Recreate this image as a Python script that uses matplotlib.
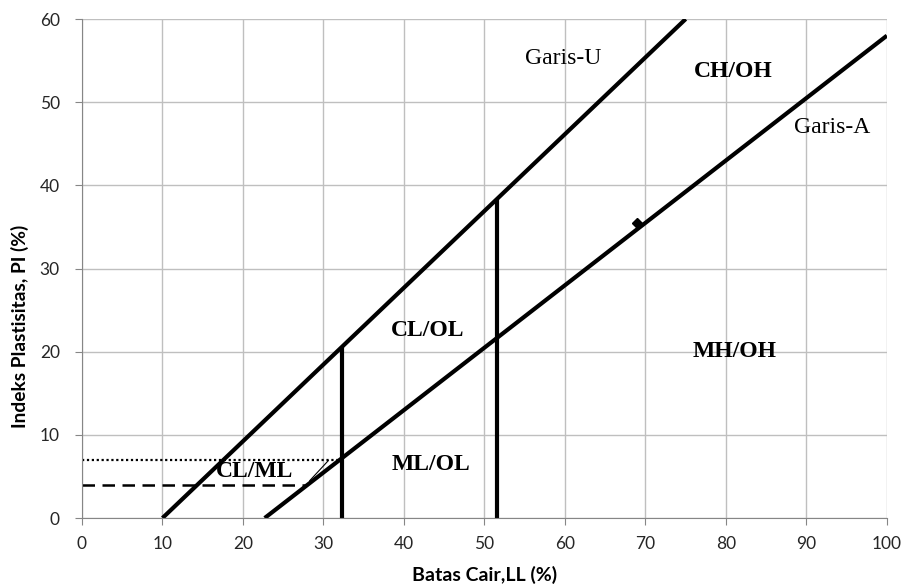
import matplotlib
matplotlib.use("Agg")
import matplotlib.pyplot as plt

# Data
u_line_x = [10, 75]
u_line_y = [0, 60]
a_line_x = [22.7, 100]
a_line_y = [0, 58]
v1_x = [32.3, 32.3]
v1_y = [0, 20.6]
v2_x = [51.6, 51.6]
v2_y = [0, 38.3]
dotted_x = [0, 32.0]
dotted_y = [7, 7]
dashed_x = [0, 28.0]
dashed_y = [4, 4]
hatch_x = [28.3, 30.6]
hatch_y = [4.5, 6.9]
point_x = [68.9]
point_y = [35.5]

labels = [
    ("Garis-U", 59.8, 55.3, "normal"),
    ("CH/OH", 80.9, 53.7, "bold"),
    ("Garis-A", 93.2, 46.9, "normal"),
    ("CL/OL", 43.0, 22.5, "bold"),
    ("MH/OH", 81.1, 20.0, "bold"),
    ("ML/OL", 43.4, 6.4, "bold"),
    ("CL/ML", 21.5, 5.6, "bold"),
]

xticks = list(range(0, 101, 10))
yticks = list(range(0, 61, 10))

fig = plt.figure(figsize=(9.05, 5.87), dpi=100)
ax = fig.add_axes([0.0906, 0.1175, 0.8894, 0.8501])

ax.set_xlim(0, 100)
ax.set_ylim(0, 60)
ax.set_xticks(xticks)
ax.set_yticks(yticks)
ax.grid(True, color="#bfbfbf", linewidth=1.0)
ax.set_axisbelow(True)
for s in ["top", "right"]:
    ax.spines[s].set_visible(False)
for s in ["left", "bottom"]:
    ax.spines[s].set_color("#868686")
ax.tick_params(direction="out", length=5, color="#868686", labelsize=12.5, labelcolor="#262626")
ax.tick_params(axis="x", pad=8)
ax.tick_params(axis="y", pad=11)
for lab in ax.get_xticklabels() + ax.get_yticklabels():
    lab.set_family("Lato")

ax.plot(u_line_x, u_line_y, color="black", lw=3.0, solid_capstyle="butt")
ax.plot(a_line_x, a_line_y, color="black", lw=3.0, solid_capstyle="butt")
ax.plot(v1_x, v1_y, color="black", lw=3.0, solid_capstyle="butt")
ax.plot(v2_x, v2_y, color="black", lw=3.0, solid_capstyle="butt")
ax.plot(dotted_x, dotted_y, color="black", lw=1.6, linestyle=(0, (1, 1.2)))
ax.plot(dashed_x, dashed_y, color="black", lw=1.8, linestyle=(0, (5, 3)))
ax.plot(hatch_x, hatch_y, color="black", lw=0.8)
ax.plot(point_x, point_y, marker="D", color="black", markersize=5, linestyle="none")

for txt, x, y, w in labels:
    ax.text(x, y, txt, ha="center", va="center", fontsize=17, fontweight=w,
            family="Liberation Serif", color="black")

ax.set_xlabel("Batas Cair,LL (%)", fontsize=14, fontweight="bold", family="Lato")
ax.set_ylabel("Indeks Plastisitas, PI (%)", fontsize=13.8, fontweight="bold", family="Lato")
ax.xaxis.set_label_coords(0.5, -0.115)
ax.xaxis.label.set_va("center")
ax.yaxis.set_label_coords(-0.077, 0.385)
ax.yaxis.label.set_va("center")

fig.savefig("out.png", dpi=100)
